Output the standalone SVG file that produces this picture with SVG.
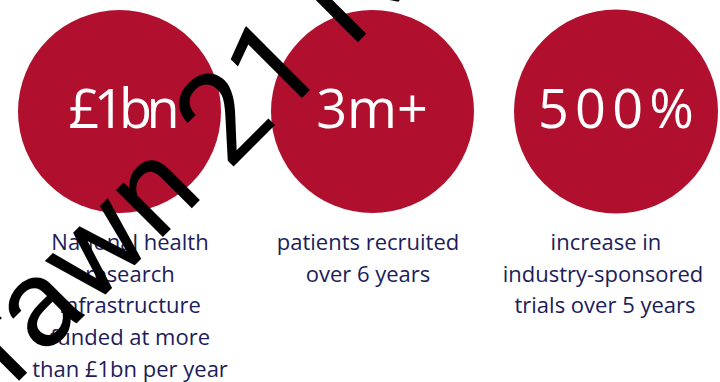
<svg xmlns="http://www.w3.org/2000/svg" width="720" height="382" viewBox="0 0 720 382">
<style>
.c{fill:#B0102E}
.big{font-family:"Open Sans","Liberation Sans",sans-serif;font-size:54px;fill:#fff;text-anchor:middle}
.cap{font-family:"Open Sans","Liberation Sans",sans-serif;font-size:22px;fill:#201c5a;text-anchor:middle}
.wm{font-family:Roboto,"Liberation Sans",sans-serif;font-size:126px;fill:#000}
</style>
<rect width="720" height="382" fill="#fff"/>
<g id="stat1">
<circle class="c" cx="119.5" cy="111.5" r="101.5"/>
<text class="big" x="124" y="128" textLength="111">£1bn</text>
<text class="cap" x="130" y="250">National health</text>
<text class="cap" x="130" y="282">research</text>
<text class="cap" x="130" y="313">infrastructure</text>
<text class="cap" x="130" y="345">funded at more</text>
<text class="cap" x="130" y="377">than £1bn per year</text>
</g>
<g id="stat2">
<circle class="c" cx="372.5" cy="111.5" r="101.5"/>
<text class="big" x="372" y="128">3m+</text>
<text class="cap" x="368" y="250">patients recruited</text>
<text class="cap" x="368" y="282">over 6 years</text>
</g>
<g id="stat3">
<circle class="c" cx="616" cy="111.5" r="102"/>
<text class="big" x="616" y="128" textLength="156">500%</text>
<text class="cap" x="606" y="250">increase in</text>
<text class="cap" x="603" y="282">industry-sponsored</text>
<text class="cap" x="605" y="313">trials over 5 years</text>
</g>
<g id="connectors"></g>
<g id="watermark">
<text class="wm" transform="translate(13,387) rotate(-45)">rawn 21 N</text>
</g>
</svg>
